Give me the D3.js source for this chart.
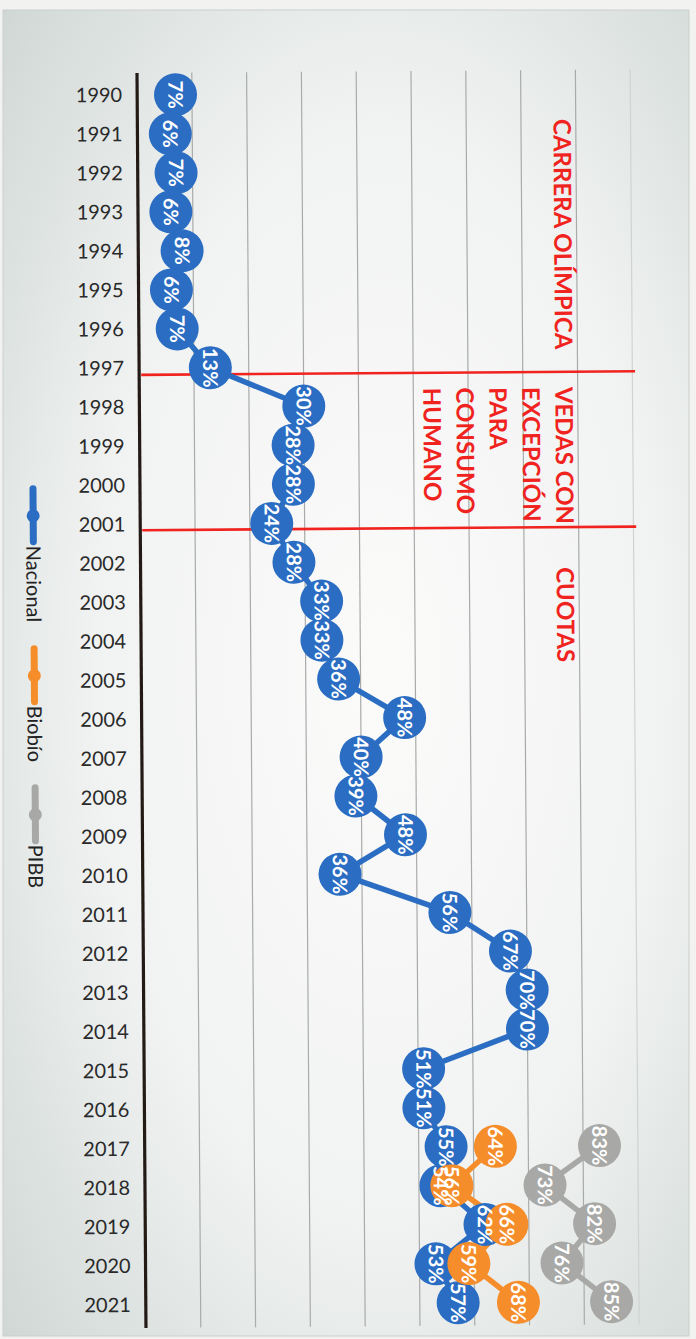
<!DOCTYPE html>
<html>
<head>
<meta charset="utf-8">
<script src="https://cdn.jsdelivr.net/npm/d3@7"></script>
<style>
  html, body { margin: 0; padding: 0; background: #f1f2f0; }
  svg { display: block; }
</style>
</head>
<body>
<svg id="chart" width="696" height="1339"></svg>
<script>
// ---- data ----
const years = [1990,1991,1992,1993,1994,1995,1996,1997,1998,1999,2000,2001,2002,2003,2004,2005,
               2006,2007,2008,2009,2010,2011,2012,2013,2014,2015,2016,2017,2018,2019,2020,2021];
const nacional = [7,6,7,6,8,6,7,13,30,28,28,24,28,33,33,36,48,40,39,48,36,56,67,70,70,51,51,55,54,62,53,57];
const regionYears = [2017,2018,2019,2020,2021];
const biobio = [64,56,66,59,68];
const pibb = [83,73,82,76,85];
const seriesNames = ["Nacional","Biobío","PIBB"];
const gridTicks = [10,20,30,40,50,60,70,80,90];
const periodBreaks = [1997.17, 2001.15];
const periodLabels = [["CARRERA OLÍMPICA"], ["VEDAS CON","EXCEPCIÓN","PARA","CONSUMO","HUMANO"], ["CUOTAS"]];

// ---- setup ----
const colors = {"Nacional":"#2a6dc2","Biobío":"#f58d2b","PIBB":"#a8a9a7"};
const svg = d3.select("#chart");
const defs = svg.append("defs");
const rg = defs.append("radialGradient").attr("id","bg").attr("cx","55%").attr("cy","50%").attr("r","75%");
rg.append("stop").attr("offset","0").attr("stop-color","#fbfbfa");
rg.append("stop").attr("offset","0.55").attr("stop-color","#f1f3f2");
rg.append("stop").attr("offset","1").attr("stop-color","#cfd7d5");

svg.append("rect").attr("width",696).attr("height",1339).attr("fill","#f2f2f0");
svg.append("rect").attr("x",3).attr("y",10).attr("width",686).attr("height",1326).attr("fill","url(#bg)")
   .attr("stroke","#c9cfcd").attr("stroke-width",1);

const plotTop = 73, plotBottom = 1328, x0 = 137;
const x = d3.scaleLinear().domain([0,100]).range([x0, 685]);
const y = d3.scaleLinear().domain([1990,2021]).range([95,1305]);

const g = svg.append("g").attr("transform", `rotate(-0.41, ${x0}, ${plotTop})`);

// grid lines
g.selectAll("line.grid").data(gridTicks).join("line")
  .attr("x1", d=>x(d)).attr("x2", d=>x(d)).attr("y1", plotTop).attr("y2", plotBottom)
  .attr("stroke", (d)=> d===90 ? "#cfd3d2" : "#a9abaa").attr("stroke-width",1.2);

// axis
g.append("line").attr("x1",x0).attr("x2",x0).attr("y1",plotTop).attr("y2",plotBottom)
  .attr("stroke","#231a16").attr("stroke-width",3.2);

// year labels via axis
const yAxis = d3.axisLeft(y).tickValues(years).tickFormat(d3.format("d")).tickSize(0).tickPadding(15);
const ag = g.append("g").attr("transform",`translate(${x0},0)`).call(yAxis);
ag.select(".domain").remove();
ag.selectAll("text").attr("font-family","Lato").attr("font-size",20).attr("fill","#2a2a2a");

// red period lines
g.selectAll("line.period").data(periodBreaks).join("line")
  .attr("x1", x0+2).attr("x2", x(90.5)).attr("y1", d=>y(d)).attr("y2", d=>y(d))
  .attr("stroke","#f0231f").attr("stroke-width",2.6);

// period labels
const starts = [plotTop+49, y(periodBreaks[0])+15, y(periodBreaks[1])+40];
periodLabels.forEach((lines,i)=>{
  lines.forEach((t,j)=>{
    g.append("text").attr("transform",`translate(${x(77.5)-j*33},${starts[i]}) rotate(90)`)
      .attr("dy","0.36em").attr("font-family","Lato").attr("font-weight","bold")
      .attr("font-size",24).attr("fill","#f0231f").text(t);
  });
});

// series
const series = [
  {name:"Nacional", pts: years.map((yr,i)=>({yr, v:nacional[i]}))},
  {name:"Biobío", pts: regionYears.map((yr,i)=>({yr, v:biobio[i]}))},
  {name:"PIBB", pts: regionYears.map((yr,i)=>({yr, v:pibb[i]}))}
];
const line = d3.line().x(d=>x(d.v)).y(d=>y(d.yr));
series.forEach(s=>{
  g.append("path").attr("d", line(s.pts)).attr("fill","none")
    .attr("stroke", colors[s.name]).attr("stroke-width",5.5).attr("stroke-linejoin","round");
});
series.forEach(s=>{
  g.selectAll(null).data(s.pts).join("circle")
    .attr("cx", d=>x(d.v)).attr("cy", d=>y(d.yr)).attr("r",21.5).attr("fill", colors[s.name]);
});
series.forEach(s=>{
  g.selectAll(null).data(s.pts).join("text")
    .attr("transform", d=>`translate(${x(d.v)},${y(d.yr)}) rotate(90)`)
    .attr("text-anchor","middle").attr("dy","0.36em")
    .attr("font-family","Lato").attr("font-weight","bold").attr("font-size",20)
    .attr("fill","#ffffff").text(d=>d.v+"%");
});

// legend
const legStarts = [488, 648, 787];
seriesNames.forEach((n,i)=>{
  const lx = 30, ly = legStarts[i];
  g.append("line").attr("x1",lx).attr("x2",lx).attr("y1",ly).attr("y2",ly+53)
    .attr("stroke",colors[n]).attr("stroke-width",7).attr("stroke-linecap","round");
  g.append("circle").attr("cx",lx).attr("cy",ly+27).attr("r",6.5).attr("fill",colors[n]);
  g.append("text").attr("transform",`translate(${lx},${ly+57}) rotate(90)`)
    .attr("dy","0.36em").attr("font-family","Lato").attr("font-size",20)
    .attr("fill","#222").text(n);
});
</script>
</body>
</html>
